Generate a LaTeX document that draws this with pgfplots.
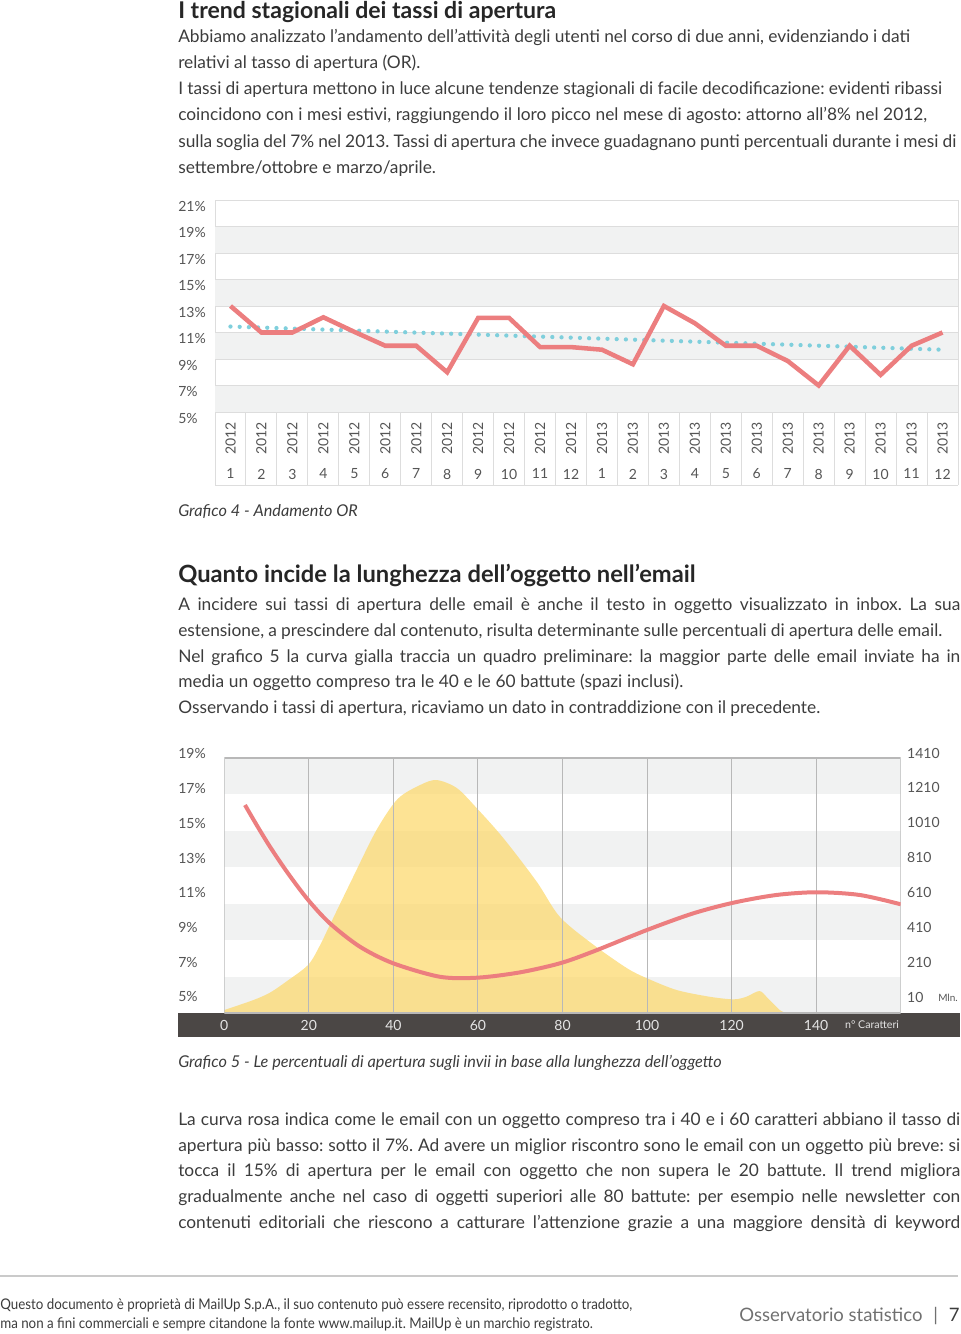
\documentclass[border=0pt]{standalone}
\usepackage{pgfplots}
\pgfplotsset{compat=1.18}
\usepackage{fontspec}
\setmainfont{Lato}
\usepackage{graphicx}
\frenchspacing
\definecolor{txt}{HTML}{3C3C3C}
\definecolor{ttl}{HTML}{262626}
\definecolor{labc}{HTML}{555555}
\definecolor{band}{HTML}{F1F2F2}
\definecolor{gridc}{HTML}{DDDDDD}
\definecolor{grid2}{HTML}{B8B8B8}
\definecolor{redl}{HTML}{EC7E7F}
\definecolor{bluel}{HTML}{7FCFDC}
\definecolor{yel}{HTML}{FCD970}
\definecolor{barc}{HTML}{4B4745}
\definecolor{barlab}{HTML}{E4E4E4}
\definecolor{foot}{HTML}{707070}
\newcommand\body{\fontsize{13pt}{15pt}\selectfont\color{txt}}
\newcommand\ttlf{\fontsize{17.3pt}{19pt}\selectfont\bfseries\color{ttl}}
\newcommand\capf{\fontsize{12.2pt}{14pt}\selectfont\itshape\color{txt}}
\newcommand\lab{\fontsize{10.5pt}{12pt}\selectfont}
\newcommand\ya{\rotatebox{90}{2012}}
\newcommand\yb{\rotatebox{90}{2013}}
\newcommand\J[1]{\makebox[586.5pt][s]{#1}}
\newcommand\W[2]{\makebox[#1pt][s]{#2}}
\begin{document}
\begin{tikzpicture}[x=0.75pt,y=-0.75pt]
\path[use as bounding box] (0,0) rectangle (960,1334);
% ---------- texts ----------
\node[anchor=base west,inner sep=0,font=\ttlf] at (178,19) {I trend stagionali dei tassi di apertura};
\node[anchor=base west,inner sep=0,font=\body] at (178,43) {\W{549}{Abbiamo analizzato l’andamento dell’attività degli utenti nel corso di due anni, evidenziando i dati}};
\node[anchor=base west,inner sep=0,font=\body] at (178,69) {relativi al tasso di apertura (OR).};
\node[anchor=base west,inner sep=0,font=\body] at (178,95) {\W{573}{I tassi di apertura mettono in luce alcune tendenze stagionali di facile decodificazione: evidenti ribassi}};
\node[anchor=base west,inner sep=0,font=\body] at (178,121) {\W{561.75}{coincidono con i mesi estivi, raggiungendo il loro picco nel mese di agosto: attorno all’8\% nel 2012,}};
\node[anchor=base west,inner sep=0,font=\body] at (178,147) {\W{583.5}{sulla soglia del 7\% nel 2013. Tassi di apertura che invece guadagnano punti percentuali durante i mesi di}};
\node[anchor=base west,inner sep=0,font=\body] at (178,173) {settembre/ottobre e marzo/aprile.};
\node[anchor=base west,inner sep=0,font=\capf] at (178,516) {Grafico 4 - Andamento OR};
\node[anchor=base west,inner sep=0,font=\ttlf\fontsize{17.8pt}{19pt}\selectfont] at (178,582) {Quanto incide la lunghezza dell’oggetto nell’email};
\node[anchor=base west,inner sep=0,font=\body] at (178,610) {\J{A incidere sui tassi di apertura delle email è anche il testo in oggetto visualizzato in inbox. La sua}};
\node[anchor=base west,inner sep=0,font=\body] at (178,636) {\W{573}{estensione, a prescindere dal contenuto, risulta determinante sulle percentuali di apertura delle email.}};
\node[anchor=base west,inner sep=0,font=\body] at (178,662) {\J{Nel grafico 5 la curva gialla traccia un quadro preliminare: la maggior parte delle email inviate ha in}};
\node[anchor=base west,inner sep=0,font=\body] at (178,687) {\W{378.75}{media un oggetto compreso tra le 40 e le 60 battute (spazi inclusi).}};
\node[anchor=base west,inner sep=0,font=\body] at (178,713) {\W{481.5}{Osservando i tassi di apertura, ricaviamo un dato in contraddizione con il precedente.}};
\node[anchor=base west,inner sep=0,font=\capf] at (178,1067) {Grafico 5 - Le percentuali di apertura sugli invii in base alla lunghezza dell’oggetto};
\node[anchor=base west,inner sep=0,font=\body] at (178,1125) {\J{La curva rosa indica come le email con un oggetto compreso tra i 40 e i 60 caratteri abbiano il tasso di}};
\node[anchor=base west,inner sep=0,font=\body] at (178,1151) {\J{apertura più basso: sotto il 7\%. Ad avere un miglior riscontro sono le email con un oggetto più breve: si}};
\node[anchor=base west,inner sep=0,font=\body] at (178,1176) {\J{tocca il 15\% di apertura per le email con oggetto che non supera le 20 battute. Il trend migliora}};
\node[anchor=base west,inner sep=0,font=\body] at (178,1202) {\J{gradualmente anche nel caso di oggetti superiori alle 80 battute: per esempio nelle newsletter con}};
\node[anchor=base west,inner sep=0,font=\body] at (178,1228) {\J{contenuti editoriali che riescono a catturare l’attenzione grazie a una maggiore densità di keyword}};
% footer
\draw[color=gridc!80!gray,line width=1.1pt] (0,1276) -- (958,1276);
\node[anchor=base west,inner sep=0,font=\fontsize{11pt}{13pt}\selectfont\color{txt}] at (0,1309) {\scalebox{0.91}[1]{Questo documento è proprietà di MailUp S.p.A., il suo contenuto può essere recensito, riprodotto o tradotto,}};
\node[anchor=base west,inner sep=0,font=\fontsize{11pt}{13pt}\selectfont\color{txt}] at (0,1328) {\scalebox{0.91}[1]{ma non a fini commerciali e sempre citandone la fonte www.mailup.it. MailUp è un marchio registrato.}};
\node[anchor=base east,inner sep=0,font=\fontsize{13.9pt}{15pt}\selectfont\color{foot}] at (960,1321) {Osservatorio statistico \,\,|\,\, {\color{txt}7}};
% dark bar chart 2
\fill[barc] (178,1013) rectangle (960,1037);
\node[anchor=center,inner sep=0,font=\fontsize{8pt}{9pt}\selectfont\color{barlab}] at (872,1025) {n° Caratteri};
\node[anchor=center,inner sep=0,font=\fontsize{7.5pt}{9pt}\selectfont\color{labc}] at (948,998) {Mln.};
% ---------- chart 1 ----------
\begin{scope}[x=1cm,y=1cm]
\begin{axis}[
 at={(161.25pt,-309pt)}, anchor=south west,
 scale only axis, width=557.25pt, height=159pt,
 xmin=0.5, xmax=24.5, ymin=5, ymax=21,
 clip=false,
 axis line style={draw=gridc, line width=0.7pt},
 tick style={draw=none},
 ytick={5,7,...,21},
 yticklabels={5\%,7\%,9\%,11\%,13\%,15\%,17\%,19\%,21\%},
 yticklabel style={anchor=west, inner sep=0pt, xshift=-27.75pt, yshift=-4.5pt, font=\lab, text=labc},
 xtick={1,...,24},
 xticklabels={\ya,\ya,\ya,\ya,\ya,\ya,\ya,\ya,\ya,\ya,\ya,\ya,\yb,\yb,\yb,\yb,\yb,\yb,\yb,\yb,\yb,\yb,\yb,\yb},
 xticklabel style={anchor=north, inner sep=0pt, yshift=-7.5pt, font=\lab, text=labc},
 extra x ticks={1,...,24},
 extra x tick labels={1,2,3,4,5,6,7,8,9,10,11,12,1,2,3,4,5,6,7,8,9,10,11,12},
 extra x tick style={xticklabel style={yshift=-35pt}},
]
\fill[band] (axis cs:0.5,17) rectangle (axis cs:24.5,19);
\fill[band] (axis cs:0.5,13) rectangle (axis cs:24.5,15);
\fill[band] (axis cs:0.5,9) rectangle (axis cs:24.5,11);
\fill[band] (axis cs:0.5,5) rectangle (axis cs:24.5,7);
\pgfplotsinvokeforeach{7,9,...,19}{\draw[gridc,line width=0.7pt] (axis cs:0.5,#1) -- (axis cs:24.5,#1);}
\pgfplotsinvokeforeach{0,...,24}{\draw[gridc,line width=0.7pt] (axis cs:#1.5,5) -- ++(0pt,-54.75pt);}
\draw[gridc,line width=0.7pt] (axis cs:0.5,5) ++(0pt,-54.75pt) -- ++(557.25pt,0pt);
\addplot[bluel, line width=3.2pt, line cap=round, dash pattern=on 0pt off 6.9pt] coordinates {(1,11.45) (24,9.7)};
\addplot[redl, line width=3.4pt, line join=miter] coordinates {
(1,13.0) (2,11.0) (3,11.0) (4,12.15) (5,11.05) (6,10.0) (7,10.0) (8,8.0) (9,12.1) (10,12.1) (11,9.9) (12,9.9)
(13,9.7) (14,8.6) (15,13.0) (16,11.7) (17,10.0) (18,10.0) (19,8.85) (20,7.0) (21,10.0) (22,7.8) (23,10.0) (24,11.0)};
\end{axis}
\end{scope}
% ---------- chart 2, axis A (Mln) ----------
\begin{scope}[x=1cm,y=1cm]
\begin{axis}[
 at={(168.225pt,-759.75pt)}, anchor=south west,
 scale only axis, width=507.3pt, height=201pt,
 xmin=0, xmax=160, ymin=-81.8, ymax=1455.9,
 axis line style={draw=none},
 tick style={draw=none},
 xtick={0,20,...,140},
 xticklabels={0,20,40,60,80,100,120,140},
 xticklabel style={anchor=center, inner sep=0pt, yshift=-9pt, font=\lab, text=barlab},
 ytick={10,210,...,1410},
 yticklabels={10,210,410,610,810,1010,1210,1410},
 yticklabel pos=right,
 yticklabel style={anchor=west, inner sep=0pt, xshift=4.7pt, font=\lab, text=labc},
]
\fill[band] (axis cs:0,1172.3) rectangle (axis cs:160,1381.3);
\fill[band] (axis cs:0,754.2) rectangle (axis cs:160,963.2);
\fill[band] (axis cs:0,336.1) rectangle (axis cs:160,545.2);
\fill[band] (axis cs:0,-81.8) rectangle (axis cs:160,127.1);
\addplot[draw=none, fill=yel, fill opacity=0.75, smooth] coordinates {
(0,-64.7) (6.9,-7.3) (10.8,35) (14.75,100) (19.86,195) (22.6,305) (25,425) (30.5,700) (36,968)
(41,1146) (46.3,1226) (50.2,1255) (55,1209) (59.7,1094) (66,922) (73.9,671.5)
(79.4,469) (87.4,308.3) (95.3,174.6) (100,117.2) (107,50.1) (114.8,11.6) (120.5,-3.3) (123.5,11.6)
(126.6,44.3) (128.6,2.4) (131.4,-64.7) (133,-81.8)} -- (axis cs:0,-81.8) -- cycle;
\pgfplotsinvokeforeach{20,40,...,140}{\draw[grid2,line width=0.8pt] (axis cs:#1,-81.8) -- (axis cs:#1,1381.3);}
\draw[grid2,line width=0.8pt] (axis cs:0,-81.8) rectangle (axis cs:160,1381.3);
\end{axis}
\end{scope}
% ---------- chart 2, axis B (%) ----------
\begin{scope}[x=1cm,y=1cm]
\begin{axis}[
 at={(168.225pt,-759.75pt)}, anchor=south west,
 scale only axis, width=507.3pt, height=201pt,
 xmin=0, xmax=160, ymin=5, ymax=19.714,
 hide x axis,
 axis y line*=left,
 axis line style={draw=none},
 tick style={draw=none},
 ytick={5.88,7.80,9.72,11.59,13.51,15.43,17.35,19.27},
 yticklabels={5\%,7\%,9\%,11\%,13\%,15\%,17\%,19\%},
 yticklabel style={anchor=west, inner sep=0pt, xshift=-34.7pt, font=\lab, text=labc},
]
\addplot[redl, line width=3pt, smooth] coordinates {
(4.89,16.42) (7.66,15.32) (10.8,14.13) (15,12.69) (19.86,11.20) (24.99,9.92) (32.08,8.64) (39.95,7.73) (50.99,6.99) (59.9,6.94)
(69.9,7.23) (79.4,7.73) (87.2,8.37) (100,9.56) (110.9,10.47) (120.5,11.06) (130.6,11.48) (140.2,11.63)
(150.3,11.48) (160,10.97)};
\end{axis}
\end{scope}
\end{tikzpicture}
\end{document}
